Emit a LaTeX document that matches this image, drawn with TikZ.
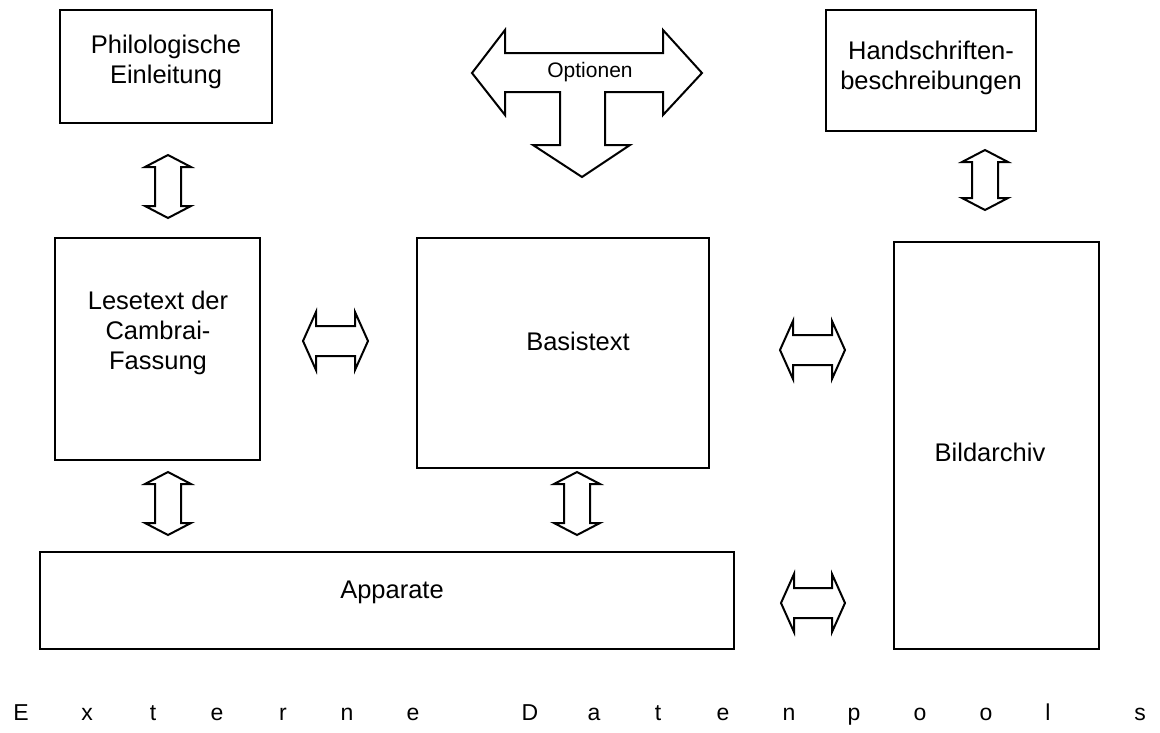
\documentclass[tikz,border=0pt]{standalone}
\usepackage{fontspec}
\setmainfont{Liberation Sans}
\begin{document}
\begin{tikzpicture}[x=1pt,y=-1pt,
  box/.style={draw=black,line width=2pt,fill=white},
  blk/.style={draw=black,line width=2pt,fill=white,line join=miter},
  lbl/.style={font=\fontsize{25.5}{30}\selectfont,align=center,text=black},
  ext/.style={font=\fontsize{23}{26}\selectfont,text=black,anchor=base}]
\useasboundingbox (0,0) rectangle (1160,732);
\fill[white] (0,0) rectangle (1160,732);
% boxes
\draw[box] (60,10) rectangle (272,123);
\node[lbl] (philo) at (166,62) {Philologische\\Einleitung};
\draw[box] (826,10) rectangle (1036,131);
\node[lbl] (hand) at (931,68) {Handschriften-\\beschreibungen};
\draw[box] (55,238) rectangle (260,460);
\node[lbl] (lese) at (158,333) {Lesetext der\\Cambrai-\\Fassung};
\draw[box] (417,238) rectangle (709,468);
\node[lbl] (basis) at (578,341) {Basistext};
\draw[box] (894,242) rectangle (1099,649);
\node[lbl] (bild) at (990,452) {Bildarchiv};
\draw[box] (40,552) rectangle (734,649);
\node[lbl] (app) at (392,592) {Apparate};
% vertical double arrows: cx, top, bottom
\newcommand{\myvarrow}[3]{%
  \draw[blk] (#1,#2) -- (#1+23,#2+12) -- (#1+13,#2+12) -- (#1+13,#3-12) -- (#1+23,#3-12)
   -- (#1,#3) -- (#1-23,#3-12) -- (#1-13,#3-12) -- (#1-13,#2+12) -- (#1-23,#2+12) -- cycle;}
% horizontal double arrows: left, right, cy
\newcommand{\myharrow}[3]{%
  \draw[blk] (#1,#3) -- (#1+13,#3-29) -- (#1+13,#3-15) -- (#2-13,#3-15) -- (#2-13,#3-29)
   -- (#2,#3) -- (#2-13,#3+29) -- (#2-13,#3+15) -- (#1+13,#3+15) -- (#1+13,#3+29) -- cycle;}
\myvarrow{168}{155}{218}
\myvarrow{168}{472}{535}
\myvarrow{577}{472}{535}
\myvarrow{985}{150}{210}
\myharrow{303}{368}{341}
\myharrow{780}{845}{350}
\myharrow{781}{845}{603}
% Optionen T-arrow
\draw[blk] (472,73) -- (505,30) -- (505,53) -- (663,53) -- (663,30) -- (702,73)
  -- (663,115) -- (663,92) -- (605,92) -- (605,145) -- (630,145) -- (582,177)
  -- (533,145) -- (560,145) -- (560,92) -- (505,92) -- (505,115) -- cycle;
\node[font=\fontsize{21}{24}\selectfont] (opt) at (590,72) {Optionen};
% Externe Datenpools
\foreach \ch/\xx [count=\i] in {E/21,x/87,t/153,e/217,r/283,n/347,e/413,D/530,a/594,t/658,e/723,n/789,p/854,o/920,o/986,l/1048,s/1140}
  \node[ext] (ext\i) at (\xx,720) {\ch};
\end{tikzpicture}
\end{document}
